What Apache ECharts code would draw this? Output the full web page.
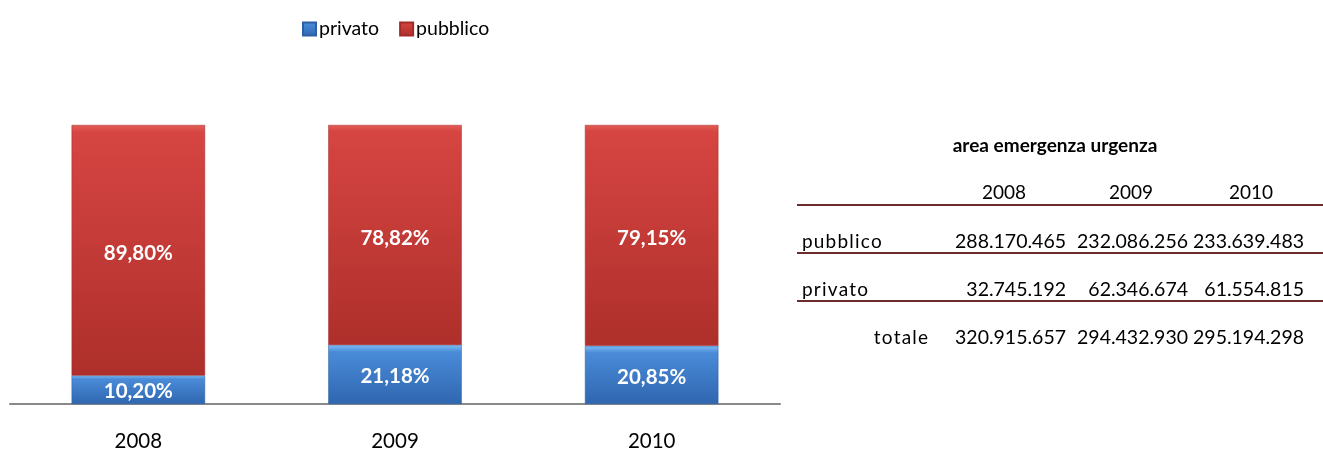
<!DOCTYPE html>
<html>
<head>
<meta charset="utf-8">
<title>area emergenza urgenza</title>
<script src="https://cdn.jsdelivr.net/npm/echarts@6/dist/echarts.min.js"></script>
<style>
  html, body { margin: 0; padding: 0; background: #ffffff; }
  #chart { width: 1323px; height: 452px; }
</style>
</head>
<body>
<div id="chart"></div>
<script>
// Years shown on the category axis and in the table header
const years = ['2008', '2009', '2010'];

// Share of spending per year (percent)
const privatoPct = [10.20, 21.18, 20.85];
const pubblicoPct = [89.80, 78.82, 79.15];

// Absolute amounts for the side table
const tableTitle = 'area emergenza urgenza';
const pubblicoAbs = [288170465, 232086256, 233639483];
const privatoAbs = [32745192, 62346674, 61554815];
const totaleAbs = [320915657, 294432930, 295194298];

const FONT = 'Lato, "Open Sans", sans-serif';

function fmtPct(v) {
  return v.toFixed(2).replace('.', ',') + '%';
}
function fmtNum(n) {
  return String(n).replace(/\B(?=(\d{3})+(?!\d))/g, '.');
}

const redFill = new echarts.graphic.LinearGradient(0, 0, 0, 1, [
  { offset: 0, color: '#e45d57' },
  { offset: 0.03, color: '#d64542' },
  { offset: 1, color: '#ae2f2b' }
]);
const blueFill = new echarts.graphic.LinearGradient(0, 0, 0, 1, [
  { offset: 0, color: '#80bdf3' },
  { offset: 0.12, color: '#4a8bd8' },
  { offset: 1, color: '#2f66b0' }
]);

// Side table layout
const colCenters = [1004, 1131, 1251];
const colRights = [1066, 1188, 1304];
const rowY = { title: 146, head: 193, pubblico: 242, privato: 290, totale: 338 };
const ruleY = [205, 253, 301];
const lineColor = '#6e2b2b';

const graphics = [];
graphics.push({
  type: 'text', x: 1055, y: rowY.title,
  style: { text: tableTitle, font: 'bold 19px ' + FONT, fill: '#000', align: 'center', verticalAlign: 'middle' }
});
years.forEach((y, i) => {
  graphics.push({
    type: 'text', x: colCenters[i], y: rowY.head,
    style: { text: y, font: '19px ' + FONT, fill: '#000', align: 'center', verticalAlign: 'middle' }
  });
});
ruleY.forEach(yy => {
  graphics.push({
    type: 'line', shape: { x1: 797, y1: yy, x2: 1323, y2: yy },
    style: { stroke: lineColor, lineWidth: 2 }
  });
});
const rows = [
  { name: 'pubblico', vals: pubblicoAbs, y: rowY.pubblico, x: 802, align: 'left' },
  { name: 'privato', vals: privatoAbs, y: rowY.privato, x: 802, align: 'left' },
  { name: 'totale', vals: totaleAbs, y: rowY.totale, x: 928, align: 'right' }
];
rows.forEach(r => {
  graphics.push({
    type: 'text', x: r.x, y: r.y,
    style: { text: r.name.split('').join('\u200a'), font: '19px ' + FONT, fill: '#000', align: r.align, verticalAlign: 'middle' }
  });
  r.vals.forEach((v, i) => {
    graphics.push({
      type: 'text', x: colRights[i], y: r.y,
      style: { text: fmtNum(v), font: '19.5px ' + FONT, fill: '#000', align: 'right', verticalAlign: 'middle' }
    });
  });
});

const chart = echarts.init(document.getElementById('chart'));
chart.setOption({
  animation: false,
  backgroundColor: '#ffffff',
  legend: {
    left: 297,
    top: 14,
    itemWidth: 13,
    itemHeight: 13,
    itemGap: 20,
    icon: 'rect',
    textStyle: { fontFamily: FONT, fontSize: 19.5, color: '#000', padding: [0, 0, 0, -2] },
    data: ['privato', 'pubblico']
  },
  grid: { left: 10, right: 543, top: 125, bottom: 47 },
  xAxis: {
    type: 'category',
    data: years,
    axisLine: { lineStyle: { color: '#898989', width: 2 } },
    axisTick: { show: false },
    axisLabel: { fontFamily: FONT, fontSize: 20.5, color: '#000', margin: 27 }
  },
  yAxis: {
    type: 'value', min: 0, max: 100, show: false,
    splitLine: { show: false }
  },
  series: [
    {
      name: 'privato', type: 'bar', stack: 'tot', barWidth: '52%',
      data: privatoPct,
      itemStyle: { color: blueFill, borderColor: '#2c5fa3', borderWidth: 0.5 },
      label: {
        show: true, position: 'inside', offset: [0, 2], formatter: p => fmtPct(p.value),
        fontFamily: FONT, fontWeight: 'bold', fontSize: 20.5, color: '#ffffff'
      }
    },
    {
      name: 'pubblico', type: 'bar', stack: 'tot', barWidth: '52%',
      data: pubblicoPct,
      itemStyle: { color: redFill, borderColor: '#a32b27', borderWidth: 0.5 },
      label: {
        show: true, position: 'inside', offset: [0, 3], formatter: p => fmtPct(p.value),
        fontFamily: FONT, fontWeight: 'bold', fontSize: 20.5, color: '#ffffff'
      }
    }
  ],
  graphic: graphics
});
</script>
</body>
</html>
